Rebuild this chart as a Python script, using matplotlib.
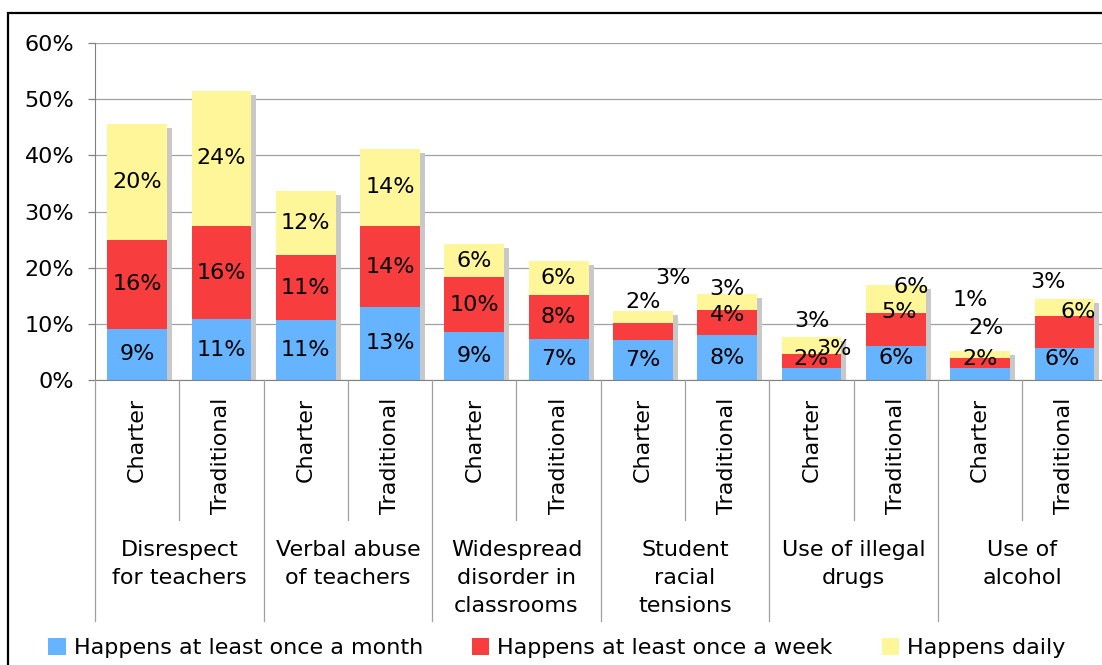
import matplotlib
matplotlib.use('Agg')
import matplotlib.pyplot as plt
from matplotlib import transforms
from matplotlib.patches import Patch, Rectangle

# categories
groups = ['Disrespect\nfor teachers', 'Verbal abuse\nof teachers', 'Widespread\ndisorder in\nclassrooms',
          'Student\nracial\ntensions', 'Use of illegal\ndrugs', 'Use of\nalcohol']
schools = ['Charter', 'Traditional']

# values in percent, one per bar (Charter, Traditional for each group)
monthly = [9.1, 10.8, 10.7, 13.0, 8.5, 7.3, 7.1, 8.0, 2.1, 6.0, 2.1, 5.7]
weekly = [15.9, 16.6, 11.5, 14.4, 9.8, 7.8, 3.1, 4.4, 2.6, 6.0, 1.9, 5.7]
daily = [20.5, 24.1, 11.5, 13.8, 5.9, 6.0, 2.1, 3.0, 3.0, 5.0, 1.1, 3.1]

# label text as printed on the chart
monthly_lbl = ['9%', '11%', '11%', '13%', '9%', '7%', '7%', '8%', '2%', '6%', '2%', '6%']
weekly_lbl = ['16%', '16%', '11%', '14%', '10%', '8%', '3%', '4%', '3%', '5%', '2%', '6%']
daily_lbl = ['20%', '24%', '12%', '14%', '6%', '6%', '2%', '3%', '3%', '6%', '1%', '3%']

series_names = ['Happens at least once a month', 'Happens at least once a week', 'Happens daily']
colors = ['#66B3FF', '#F73D3D', '#FFF599']

# small labels that were moved off their segment (pixels: right, up)
moved = {
    (6, 1): (30, 53), (6, 2): (0, 15),
    (7, 1): (0, 8), (7, 2): (0, 13),
    (8, 0): (0, 15), (8, 1): (22, 12), (8, 2): (0, 24),
    (9, 0): (0, 5), (9, 1): (3, 17), (9, 2): (15, 12),
    (10, 0): (0, 15), (10, 1): (6, 35), (10, 2): (-10, 54),
    (11, 0): (-2, 5), (11, 1): (14, 20), (11, 2): (-17, 25),
}

W, H = 1102, 665
fig = plt.figure(figsize=(W / 100, H / 100), dpi=100)
ax_left, ax_bottom, ax_top = 95 / W, 1 - 380 / H, 1 - 43 / H
ax = fig.add_axes([ax_left, ax_bottom, 12 * 84.3 / W, ax_top - ax_bottom])

FS = 16
x = list(range(len(monthly)))
bw = 0.71

ax.set_xlim(-0.5, 11.5)
ax.set_ylim(0, 60)
ax.set_yticks(range(0, 61, 10))
ax.set_yticklabels(['%d%%' % v for v in range(0, 61, 10)], fontsize=FS)
ax.yaxis.grid(True, color='#A0A0A0', linewidth=0.9, zorder=0)
ax.set_axisbelow(True)
ax.tick_params(axis='y', length=5, width=0.9, color='#808080', pad=10)
for s in ['top', 'right']:
    ax.spines[s].set_visible(False)
ax.spines['left'].set_color('#808080')
ax.spines['bottom'].set_color('#808080')

# shadow behind the stacks
total = [m + w + d for m, w, d in zip(monthly, weekly, daily)]
shadow_tr = transforms.offset_copy(ax.transData, fig=fig, x=5, y=-4, units='dots')
ax.bar(x, total, bw, color='#C8C8C8', transform=shadow_tr, zorder=1, linewidth=0)

series = [monthly, weekly, daily]
labels = [monthly_lbl, weekly_lbl, daily_lbl]
bottom = [0] * len(x)
for k, vals in enumerate(series):
    ax.bar(x, vals, bw, bottom=bottom, color=colors[k], zorder=2, linewidth=0)
    for i in x:
        cy = bottom[i] + vals[i] / 2
        dx, dy = moved.get((i, k), (0, 0))
        ax.annotate(labels[k][i], (i, cy), xytext=(dx, dy), textcoords='offset pixels',
                    ha='center', va='center', fontsize=FS, zorder=5)
    bottom = [b + v for b, v in zip(bottom, vals)]

# category axis: school type rotated, group names below
ax.set_xticks(x)
ax.set_xticklabels(schools * len(groups), rotation=90, va='top', ha='center', fontsize=FS)
ax.tick_params(axis='x', length=0, pad=13)

sep_tr = transforms.blended_transform_factory(ax.transData, fig.transFigure)
short_end, long_end = 1 - 520 / H, 1 - 621 / H
for i in range(len(x) + 1):
    end = long_end if i % 2 == 0 else short_end
    ax.plot([i - 0.5, i - 0.5], [ax_bottom, end], transform=sep_tr, color='#A0A0A0',
            linewidth=0.9, clip_on=False, zorder=3)
for g, name in enumerate(groups):
    ax.text(2 * g + 0.5, 1 - 540 / H, name, transform=sep_tr, ha='center', va='top',
            fontsize=FS, linespacing=1.5)

# legend
handles = [Patch(facecolor=c, edgecolor='none') for c in colors]
fig.legend(handles, series_names, loc='center left', bbox_to_anchor=(48 / W, 1 - 648 / H),
           ncol=3, frameon=False, fontsize=FS, handlelength=0.8, handleheight=0.8,
           handletextpad=0.35, columnspacing=2.2, borderpad=0, borderaxespad=0)

# chart border
fig.patches.append(Rectangle((8 / W, -0.1), 2, 1.1 - 13 / H, transform=fig.transFigure,
                             fill=False, edgecolor='black', linewidth=1.6))

fig.savefig('out.png', dpi=100)
